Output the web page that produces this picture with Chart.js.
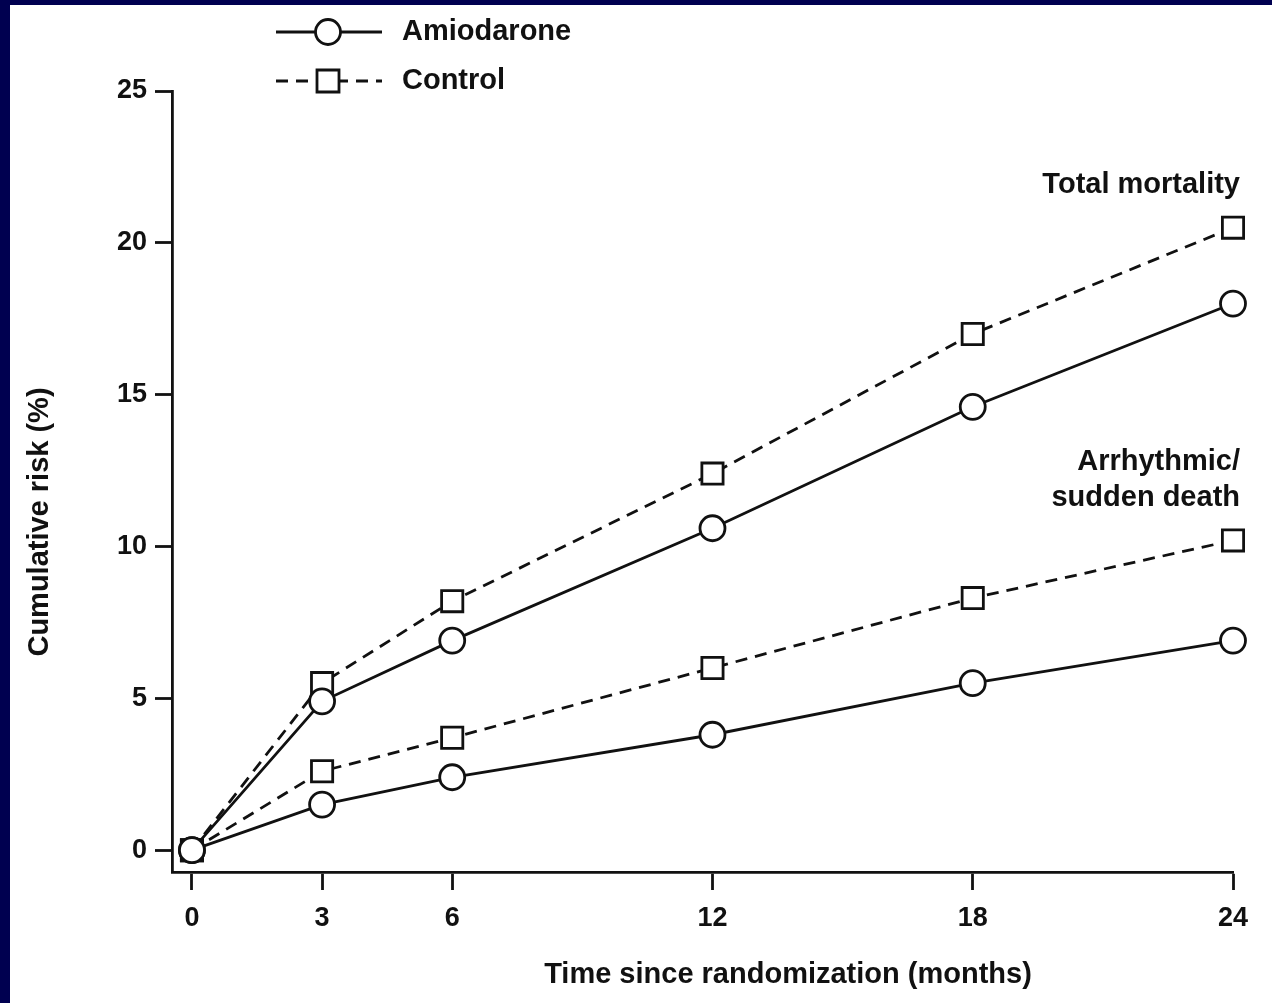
<!DOCTYPE html>
<html>
<head>
<meta charset="utf-8">
<script src="https://cdn.jsdelivr.net/npm/chart.js@4"></script>
<style>
  html, body { margin: 0; padding: 0; background: #000050; width: 1272px; height: 1003px; overflow: hidden; }
  #box { position: absolute; left: 10px; top: 5px; width: 1262px; height: 998px; background: #fff; }
</style>
</head>
<body>
<div id="box"><canvas id="chart" width="1262" height="998"></canvas></div>
<script>
const months = [0, 3, 6, 12, 18, 24]
const totalAmiodarone = [0, 4.9, 6.9, 10.6, 14.6, 18.0]
const totalControl = [0, 5.5, 8.2, 12.4, 17.0, 20.5]
const suddenAmiodarone = [0, 1.5, 2.4, 3.8, 5.5, 6.9]
const suddenControl = [0, 2.6, 3.7, 6.0, 8.3, 10.2]
const yTicks = [0, 5, 10, 15, 20, 25]

const FONT = 'bold 29px "Liberation Sans", Arial, sans-serif'
const pts = arr => arr.map((v, i) => ({ x: months[i], y: v }))

function serie(data, dashed) {
  return {
    data: pts(data),
    borderColor: '#111',
    borderWidth: 2.8,
    borderDash: dashed ? [12, 8] : [],
    pointStyle: dashed ? 'rect' : 'circle',
    pointRadius: dashed ? 15 : 12.5,
    pointBackgroundColor: '#fff',
    pointBorderColor: '#111',
    pointBorderWidth: 2.8,
    tension: 0
  }
}

const extras = {
  id: 'extras',
  afterDraw(chart) {
    const c = chart.ctx
    c.save()
    c.fillStyle = '#111'
    c.strokeStyle = '#111'
    c.font = FONT
    c.textBaseline = 'middle'
    // legend
    const rows = [['Amiodarone', false, 27], ['Control', true, 76]]
    rows.forEach(([label, dashed, y]) => {
      c.lineWidth = 2.8
      c.setLineDash(dashed ? [12, 8] : [])
      c.beginPath(); c.moveTo(266, y); c.lineTo(372, y); c.stroke()
      c.setLineDash([])
      c.fillStyle = '#fff'
      c.beginPath()
      if (dashed) c.rect(307, y - 11, 22, 22)
      else c.arc(318, y, 12.5, 0, Math.PI * 2)
      c.fill(); c.stroke()
      c.fillStyle = '#111'
      c.textAlign = 'left'
      c.fillText(label, 392, y)
    })
    c.textAlign = 'right'
    c.fillText('Total mortality', 1230, 180)
    c.fillText('Arrhythmic/', 1230, 457)
    c.fillText('sudden death', 1230, 493)
    c.textAlign = 'center'
    c.fillText('Time since randomization (months)', 778, 970)
    c.translate(30, 517)
    c.rotate(-Math.PI / 2)
    c.fillText('Cumulative risk (%)', 0, 0)
    c.restore()
  }
}

new Chart(document.getElementById('chart'), {
  type: 'line',
  data: {
    datasets: [
      serie(totalAmiodarone, false),
      serie(totalControl, true),
      serie(suddenAmiodarone, false),
      serie(suddenControl, true)
    ]
  },
  options: {
    responsive: false,
    animation: false,
    clip: false,
    layout: { padding: { top: 86, right: 39, left: 0, bottom: 0 } },
    plugins: { legend: { display: false }, tooltip: { enabled: false } },
    scales: {
      x: {
        type: 'linear', min: -0.46, max: 24,
        afterBuildTicks: s => { s.ticks = months.map(v => ({ value: v })) },
        afterFit: s => { s.height = 131 },
        grid: { drawOnChartArea: false, tickLength: 18, tickWidth: 2.8, tickColor: '#111' },
        border: { color: '#111', width: 2.8 },
        ticks: { color: '#111', font: { family: '"Liberation Sans", Arial', size: 27, weight: 'bold' }, padding: 12, maxRotation: 0 }
      },
      y: {
        min: -0.72, max: 25,
        afterBuildTicks: s => { s.ticks = yTicks.map(v => ({ value: v })) },
        afterFit: s => { s.width = 162 },
        grid: { drawOnChartArea: false, tickLength: 17, tickWidth: 2.8, tickColor: '#111' },
        border: { color: '#111', width: 2.8 },
        ticks: { color: '#111', font: { family: '"Liberation Sans", Arial', size: 27, weight: 'bold' }, padding: 8 }
      }
    }
  },
  plugins: [extras]
})
</script>
</body>
</html>
